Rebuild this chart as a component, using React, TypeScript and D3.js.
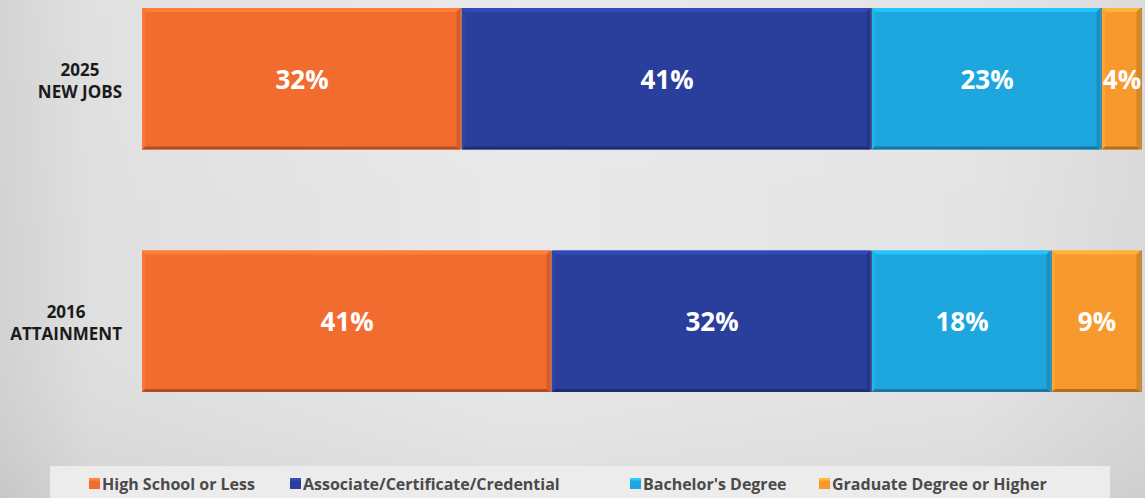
import React, { useEffect, useRef } from "react";
import * as d3 from "d3";

const categories = ["2025 NEW JOBS", "2016 ATTAINMENT"];
const categoryLines = [["2025", "NEW JOBS"], ["2016", "ATTAINMENT"]];
const seriesNames = [
  "High School or Less",
  "Associate/Certificate/Credential",
  "Bachelor's Degree",
  "Graduate Degree or Higher",
];
const highSchool = [32, 41];
const associate = [41, 32];
const bachelors = [23, 18];
const graduate = [4, 9];
const seriesColors = ["#f26c30", "#2a3f9c", "#1ea6df", "#f7992d"];

const W = 1145;
const H = 498;
const FONT = "'Open Sans', Lato, sans-serif";

export default function App() {
  const ref = useRef<SVGSVGElement | null>(null);

  useEffect(() => {
    const svg = d3.select(ref.current);
    svg.selectAll("*").remove();

    const defs = svg.append("defs");
    const bg = defs.append("linearGradient").attr("id", "bgH").attr("x1", 0).attr("x2", 1).attr("y1", 0).attr("y2", 0);
    [["0%", "#d2d2d2"], ["8%", "#dfdfdf"], ["45%", "#e9e9e9"], ["85%", "#e4e4e4"], ["100%", "#d9d9d9"]].forEach(([o, c]) =>
      bg.append("stop").attr("offset", o).attr("stop-color", c)
    );
    const bgV = defs.append("linearGradient").attr("id", "bgV").attr("x1", 0).attr("x2", 0).attr("y1", 0).attr("y2", 1);
    [["0%", "#ffffff", 0.05], ["60%", "#ffffff", 0.0], ["100%", "#000000", 0.05]].forEach(([o, c, op]) =>
      bgV.append("stop").attr("offset", o as string).attr("stop-color", c as string).attr("stop-opacity", op as number)
    );

    svg.append("rect").attr("width", W).attr("height", H).attr("fill", "url(#bgH)");
    svg.append("rect").attr("width", W).attr("height", H).attr("fill", "url(#bgV)");

    const table = categories.map((c, i) => ({
      category: c,
      [seriesNames[0]]: highSchool[i],
      [seriesNames[1]]: associate[i],
      [seriesNames[2]]: bachelors[i],
      [seriesNames[3]]: graduate[i],
    }));

    const stack = d3.stack<any>().keys(seriesNames);
    const stacked = stack(table);

    const x = d3.scaleLinear().domain([0, 100]).range([142, 1142]);
    const y = d3.scaleBand().domain(categories).range([8, 392]).paddingInner(0.417).paddingOuter(0);
    const color = d3.scaleOrdinal<string, string>().domain(seriesNames).range(seriesColors);

    const g = svg.append("g");
    stacked.forEach((layer) => {
      const col = color(layer.key);
      const light = d3.color(col)!.brighter(0.45).formatHex();
      const dark = d3.color(col)!.darker(0.9).formatHex();
      const mid = d3.color(col)!.darker(0.4).formatHex();
      layer.forEach((d: any) => {
        const x0 = x(d[0]);
        const x1 = x(d[1]);
        const yy = y(d.data.category)!;
        const bh = y.bandwidth();
        const w = x1 - x0 - 1.5;
        const seg = g.append("g");
        seg.append("rect").attr("x", x0).attr("y", yy).attr("width", w).attr("height", bh).attr("fill", col);
        seg.append("polygon")
          .attr("points", [[x0, yy], [x0 + w, yy], [x0 + w - 4, yy + 4], [x0 + 4, yy + 4]].map((p) => p.join(",")).join(" "))
          .attr("fill", light);
        seg.append("polygon")
          .attr("points", [[x0, yy], [x0 + 3, yy + 4], [x0 + 3, yy + bh - 3], [x0, yy + bh]].map((p) => p.join(",")).join(" "))
          .attr("fill", light).attr("opacity", 0.5);
        seg.append("polygon")
          .attr("points", [[x0 + w, yy], [x0 + w, yy + bh], [x0 + w - 4, yy + bh - 3], [x0 + w - 4, yy + 4]].map((p) => p.join(",")).join(" "))
          .attr("fill", mid);
        seg.append("polygon")
          .attr("points", [[x0, yy + bh], [x0 + w, yy + bh], [x0 + w - 4, yy + bh - 3], [x0 + 3, yy + bh - 3]].map((p) => p.join(",")).join(" "))
          .attr("fill", dark);
        seg.append("rect").attr("x", x0 + w).attr("y", yy).attr("width", 1.5).attr("height", bh).attr("fill", dark).attr("opacity", 0.8);

        seg.append("text")
          .attr("x", (x0 + x1) / 2)
          .attr("y", yy + bh / 2 + 10)
          .attr("text-anchor", "middle")
          .attr("fill", "#ffffff")
          .attr("font-family", FONT)
          .attr("font-weight", 700)
          .attr("font-size", 26)
          .text(`${d[1] - d[0]}%`);
      });
    });

    categories.forEach((c, i) => {
      const yy = y(c)! + y.bandwidth() / 2;
      const tg = svg.append("g");
      const lines = categoryLines[i];
      const texts = lines.map((ln, k) =>
        tg.append("text")
          .attr("y", yy - 3 + k * 22)
          .attr("text-anchor", "middle")
          .attr("fill", "#1a1a1a")
          .attr("font-family", FONT)
          .attr("font-weight", 700)
          .attr("font-size", 17)
          .text(ln)
      );
      const maxW = d3.max(texts, (t) => (t.node() as SVGTextElement).getComputedTextLength()) || 0;
      const cx = 122 - maxW / 2;
      texts.forEach((t) => t.attr("x", cx));
    });

    svg.append("rect").attr("x", 50).attr("y", 466).attr("width", 1060).attr("height", 40).attr("fill", "#ececec");
    const legendX = [89, 290, 630, 819];
    const lg = svg.append("g");
    seriesNames.forEach((s, i) => {
      const col = color(s);
      lg.append("rect").attr("x", legendX[i]).attr("y", 478).attr("width", 11).attr("height", 11).attr("fill", col);
      lg.append("rect").attr("x", legendX[i]).attr("y", 478).attr("width", 11).attr("height", 2.5)
        .attr("fill", d3.color(col)!.brighter(0.6).formatHex());
      lg.append("text")
        .attr("x", legendX[i] + 13)
        .attr("y", 490)
        .attr("fill", "#4a4a4a")
        .attr("font-family", FONT)
        .attr("font-weight", 700)
        .attr("font-size", 16)
        .text(s);
    });
  }, []);

  return (
    <svg
      ref={ref}
      width={W}
      height={H}
      style={{ position: "absolute", left: 0, top: 0, display: "block" }}
    />
  );
}
